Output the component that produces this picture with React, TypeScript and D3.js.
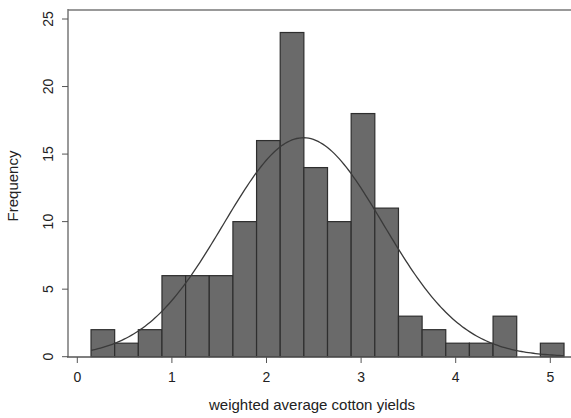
import React from "react";
import * as d3 from "d3";

const binStart = 0.145;
const binWidth = 0.25;
const counts = [2, 1, 2, 6, 6, 6, 10, 16, 24, 14, 10, 18, 11, 3, 2, 1, 1, 3, 0, 1];
const xTicks = [0, 1, 2, 3, 4, 5];
const yTicks = [0, 5, 10, 15, 20, 25];
const normalMean = 2.39;
const normalSd = 0.843;

export default function App() {
  const W = 571, H = 418;
  const x = d3.scaleLinear().domain([0, 5]).range([77.3, 550.3]);
  const y = d3.scaleLinear().domain([0, 25]).range([356.7, 19]);
  const total = d3.sum(counts);
  const binEnd = binStart + binWidth * counts.length;
  const pts = d3.range(0, 201).map((i) => binStart + (binEnd - binStart) * i / 200);
  const dens = (v: number) =>
    total * binWidth * Math.exp(-0.5 * ((v - normalMean) / normalSd) ** 2) / (normalSd * Math.sqrt(2 * Math.PI));
  const line = d3.line<number>().x((v) => x(v)).y((v) => y(dens(v)));
  const font = "'Liberation Sans', Arial, Helvetica, sans-serif";
  return (
    <svg width={W} height={H} style={{ position: "absolute", left: 0, top: 0 }} fontFamily={font}>
      <rect width={W} height={H} fill="#fff" />
      {counts.map((c, i) => {
        const x0 = binStart + i * binWidth;
        if (c === 0) return null;
        return (
          <rect key={i} x={x(x0)} y={y(c)} width={x(x0 + binWidth) - x(x0)} height={y(0) - y(c)}
            fill="#6a6a6a" stroke="#2e2e2e" strokeWidth={1.2} />
        );
      })}
      <path d={line(pts) || ""} fill="none" stroke="#3a3a3a" strokeWidth={1.3} />
      <line x1={68} x2={W} y1={10} y2={10} stroke="#999" strokeWidth={2} />
      <line x1={68} x2={68} y1={9} y2={357} stroke="#777" strokeWidth={1.5} />
      <line x1={67} x2={W} y1={357} y2={357} stroke="#555" strokeWidth={1.5} />
      {yTicks.map((t) => (
        <g key={t}>
          <line x1={62} x2={68} y1={y(t)} y2={y(t)} stroke="#555" strokeWidth={1} />
          <text transform={`translate(53,${y(t)}) rotate(-90)`} textAnchor="middle" fontSize={14} fill="#222">{t}</text>
        </g>
      ))}
      {xTicks.map((t) => (
        <g key={t}>
          <line x1={x(t)} x2={x(t)} y1={357} y2={363} stroke="#555" strokeWidth={1} />
          <text x={x(t)} y={382} textAnchor="middle" fontSize={14} fill="#222">{t}</text>
        </g>
      ))}
      <text transform={`translate(18,186) rotate(-90)`} textAnchor="middle" fontSize={15} fill="#222">Frequency</text>
      <text x={312} y={410} textAnchor="middle" fontSize={15} fill="#222">weighted average cotton yields</text>
    </svg>
  );
}
